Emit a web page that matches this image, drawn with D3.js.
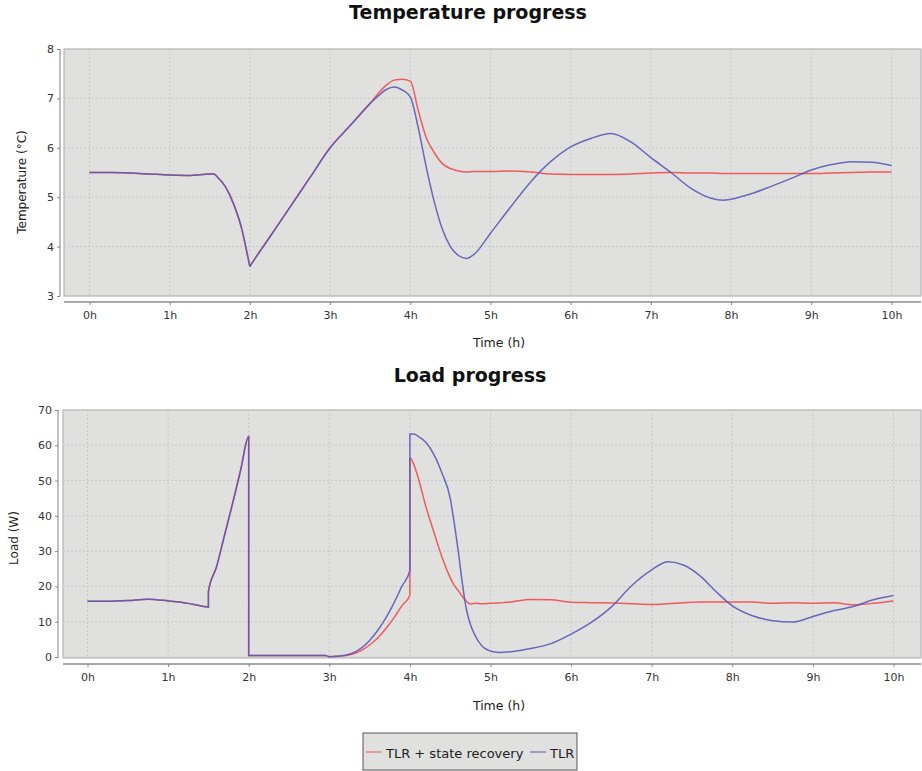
<!DOCTYPE html>
<html><head><meta charset="utf-8">
<script src="https://cdn.jsdelivr.net/npm/d3@7"></script>
<style>
body{margin:0;background:#fff;}
svg{display:block;font-family:"DejaVu Sans",sans-serif;}
</style></head>
<body><svg id="c" width="922" height="771"></svg>
<script>
// ---------- DATA ----------
const hourTicks = [0,1,2,3,4,5,6,7,8,9,10];
const hourLabels = ["0h","1h","2h","3h","4h","5h","6h","7h","8h","9h","10h"];
const tempTicks = [3,4,5,6,7,8];
const loadTicks = [0,10,20,30,40,50,60,70];
const seriesNames = ["TLR + state recovery","TLR"];

const tempTime = [0,0.25,0.5,0.75,1.0,1.25,1.5,1.55,1.6,1.7,1.8,1.9,1.98,2.0,2.02,2.25,2.5,2.75,3.0,3.25,3.5,3.6,3.7,3.8,3.9,4.0,4.1,4.2,4.3,4.4,4.5,4.6,4.7,4.8,5.0,5.25,5.5,5.75,6.0,6.25,6.5,6.75,7.0,7.25,7.5,7.75,7.9,8.0,8.25,8.5,8.75,9.0,9.25,9.5,9.75,10.0];
const tempTLR = [5.50,5.50,5.49,5.47,5.45,5.44,5.47,5.47,5.40,5.20,4.85,4.35,3.75,3.60,3.65,4.20,4.80,5.40,6.00,6.45,6.90,7.05,7.18,7.23,7.17,7.03,6.40,5.60,4.90,4.35,4.00,3.82,3.76,3.85,4.27,4.80,5.31,5.72,6.02,6.19,6.29,6.12,5.80,5.50,5.18,4.98,4.94,4.96,5.07,5.22,5.38,5.55,5.66,5.72,5.71,5.64];
const tempTLRSR = [5.50,5.50,5.49,5.47,5.45,5.44,5.47,5.47,5.40,5.20,4.85,4.35,3.75,3.60,3.65,4.20,4.80,5.40,6.00,6.45,6.90,7.10,7.27,7.37,7.39,7.35,6.75,6.20,5.90,5.68,5.58,5.53,5.51,5.52,5.52,5.53,5.51,5.47,5.46,5.46,5.46,5.47,5.49,5.50,5.49,5.49,5.48,5.48,5.48,5.48,5.48,5.48,5.49,5.50,5.51,5.51];

const loadTime = [0,0.25,0.5,0.75,1.0,1.25,1.4,1.5,1.5,1.6,1.7,1.8,1.9,2.0,2.0,2.5,2.95,3.0,3.1,3.2,3.3,3.4,3.5,3.6,3.7,3.8,3.9,4.0,4.0,4.05,4.1,4.2,4.3,4.4,4.5,4.55,4.6,4.65,4.7,4.75,4.8,4.9,5.0,5.1,5.25,5.5,5.75,6.0,6.25,6.5,6.75,7.0,7.2,7.4,7.6,7.8,8.0,8.25,8.5,8.75,9.0,9.25,9.5,9.75,10.0];
const loadTLR = [15.8,15.8,16.0,16.4,15.9,15.2,14.5,14.2,18.5,25.5,34.5,43.5,53.0,62.5,0.4,0.4,0.4,0.1,0.2,0.5,1.2,2.6,4.7,7.5,11.0,15.2,20.0,24.5,63.2,63.2,62.6,60.8,57.3,52.0,45.0,38.0,30.0,21.0,13.6,9.3,6.5,3.0,1.7,1.3,1.5,2.4,3.8,6.5,9.8,14.2,20.2,24.7,27.0,26.0,23.0,18.5,14.5,11.7,10.3,9.9,11.5,13.1,14.3,16.2,17.4];
const loadTLRSR = [15.8,15.8,16.0,16.4,15.9,15.2,14.5,14.2,18.5,25.5,34.5,43.5,53.0,62.5,0.4,0.4,0.4,0.1,0.2,0.4,0.9,1.9,3.4,5.4,8.0,11.0,14.5,17.5,56.5,54.5,51.0,42.5,35.2,28.2,22.5,20.3,18.8,17.2,15.8,15.0,15.2,15.1,15.2,15.3,15.6,16.3,16.2,15.5,15.4,15.3,15.1,14.9,15.1,15.4,15.6,15.6,15.6,15.6,15.2,15.4,15.2,15.4,14.8,15.2,15.9];

// ---------- STYLE ----------
const RED = "#f05a5a", BLUE = "#5a5ab8";
const svg = d3.select("#c");

function panel(cfg){
  const g = svg.append("g");
  const x = d3.scaleLinear().domain([0,10]).range(cfg.xr);
  const y = d3.scaleLinear().domain(cfg.yd).range(cfg.yr);
  g.append("rect").attr("x",cfg.px0).attr("y",cfg.py0)
    .attr("width",cfg.px1-cfg.px0).attr("height",cfg.py1-cfg.py0)
    .attr("fill","#e0e0df").attr("stroke","#a8a8a8").attr("stroke-width",1);
  g.selectAll(".vg").data(hourTicks).join("line")
    .attr("x1",d=>x(d)).attr("x2",d=>x(d)).attr("y1",cfg.py0).attr("y2",cfg.py1)
    .attr("stroke","#c8c8c8").attr("stroke-width",1).attr("stroke-dasharray","2,2");
  g.selectAll(".hg").data(cfg.ticks).join("line")
    .attr("x1",cfg.px0).attr("x2",cfg.px1).attr("y1",d=>y(d)).attr("y2",d=>y(d))
    .attr("stroke","#c8c8c8").attr("stroke-width",1).attr("stroke-dasharray","2,2");
  const xa = d3.axisBottom(x).tickValues(hourTicks).tickFormat((d,i)=>hourLabels[i]).tickSize(3).tickPadding(6);
  const gx = g.append("g").attr("transform",`translate(0,${cfg.xaxisY})`).call(xa);
  gx.select(".domain").attr("d",`M${cfg.px0},0H${cfg.px1}`).attr("stroke","#a8a8a8").attr("stroke-width",2);
  gx.selectAll(".tick line").attr("stroke","#888");
  gx.selectAll(".tick text").attr("fill","#333").style("font-size","11px").style("font-family","DejaVu Sans");
  const ya = d3.axisLeft(y).tickValues(cfg.ticks).tickFormat(d3.format("d")).tickSize(3).tickPadding(3);
  const gy = g.append("g").attr("transform",`translate(${cfg.yaxisX},0)`).call(ya);
  gy.select(".domain").attr("d",`M0,${cfg.py0}V${cfg.py1}`).attr("stroke","#a8a8a8").attr("stroke-width",1.5);
  gy.selectAll(".tick line").attr("stroke","#888");
  gy.selectAll(".tick text").attr("fill","#333").style("font-size","11px").style("font-family","DejaVu Sans");
  g.append("text").attr("x",cfg.titleX).attr("y",cfg.titleY).attr("text-anchor","middle")
    .style("font-size","19px").style("font-weight","bold").attr("fill","#111").text(cfg.title);
  g.append("text").attr("x",499).attr("y",cfg.xlabY).attr("text-anchor","middle")
    .style("font-size","12.5px").attr("fill","#222").text("Time (h)");
  g.append("text").attr("transform",`translate(${cfg.ylabX},${cfg.ylabCY}) rotate(-90)`).attr("text-anchor","middle")
    .style("font-size","12px").attr("fill","#222").text(cfg.ylab);
  const line = d3.line().x(d=>x(d[0])).y(d=>y(d[1])).curve(d3.curveMonotoneX);
  const red = cfg.time.map((t,i)=>[t,cfg.redVals[i]]);
  const blue = cfg.time.map((t,i)=>[t,cfg.blueVals[i]]);
  g.append("path").datum(red).attr("d",line).attr("fill","none").attr("stroke",RED).attr("stroke-width",1.5);
  g.append("path").datum(blue).attr("d",line).attr("fill","none").attr("stroke",BLUE).attr("stroke-width",1.5).attr("stroke-opacity",0.9);
}

panel({title:"Temperature progress",titleX:468,titleY:19,xr:[89.5,891.5],yd:[3,8],yr:[296,49],
  px0:64,px1:921,py0:49,py1:296,xaxisY:302,yaxisX:60,ticks:tempTicks,xlabY:347,ylabX:26,ylabCY:182,
  ylab:"Temperature (°C)",time:tempTime,redVals:tempTLRSR,blueVals:tempTLR});
panel({title:"Load progress",titleX:470,titleY:382,xr:[87.5,893.5],yd:[0,70],yr:[657,410],
  px0:63,px1:921,py0:410,py1:658,xaxisY:664,yaxisX:58,ticks:loadTicks,xlabY:710,ylabX:18,ylabCY:538,
  ylab:"Load (W)",time:loadTime,redVals:loadTLRSR,blueVals:loadTLR});

const lg = svg.append("g");
lg.append("rect").attr("x",363).attr("y",733).attr("width",214).attr("height",37)
  .attr("fill","#e0e0df").attr("stroke","#555").attr("stroke-width",1);
const items = [{n:seriesNames[0],c:RED,x:366},{n:seriesNames[1],c:BLUE,x:530}];
items.forEach(it=>{
  lg.append("line").attr("x1",it.x).attr("x2",it.x+16).attr("y1",752).attr("y2",752)
    .attr("stroke",it.c).attr("stroke-width",1.5).attr("stroke-opacity",0.7);
  lg.append("text").attr("x",it.x+20).attr("y",753).attr("dy","0.35em")
    .style("font-size","13px").attr("fill","#222").text(it.n);
});
</script></body></html>
